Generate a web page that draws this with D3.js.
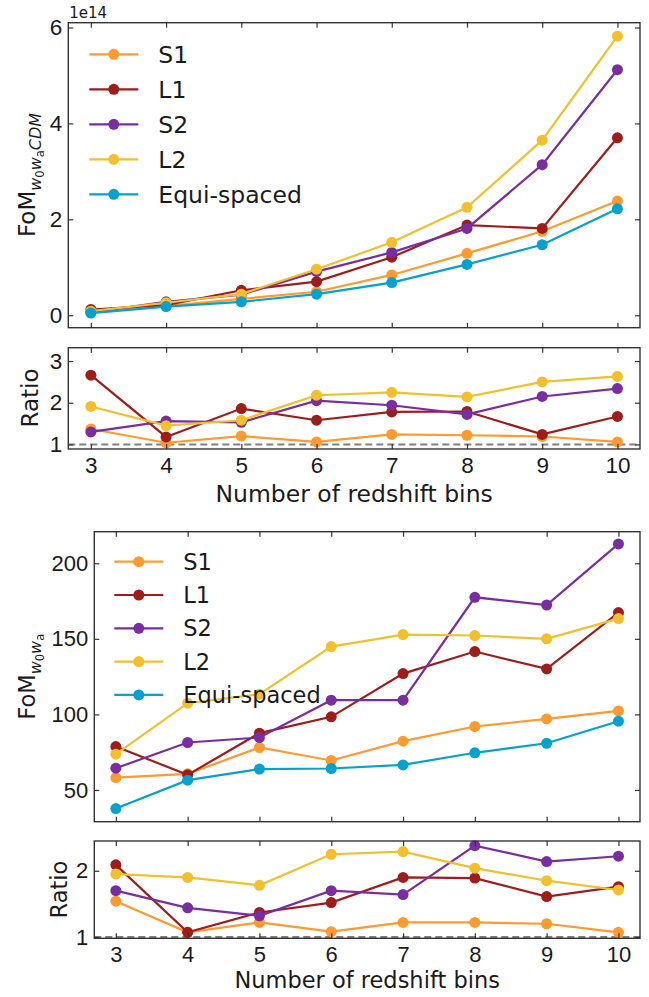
<!DOCTYPE html>
<html>
<head>
<meta charset="utf-8">
<script src="https://cdn.jsdelivr.net/npm/d3@7"></script>
<style>
  body { margin: 0; background: #fff; }
  svg { display: block; font-family: "DejaVu Sans", sans-serif; }
</style>
</head>
<body>
<div id="chart"></div>
<script>
// ---- data ----
const bins = [3, 4, 5, 6, 7, 8, 9, 10];
const seriesNames = ["S1", "L1", "S2", "L2", "Equi-spaced"];
const seriesColors = ["#fe9a2e", "#9e1d1a", "#7a2da0", "#f3bf2b", "#04a1d1"];

// FoM w0 wa CDM, in units of 1e14
const cdmS1   = [0.06, 0.19, 0.34, 0.49, 0.84, 1.29, 1.75, 2.38];
const cdmL1   = [0.12, 0.21, 0.52, 0.70, 1.21, 1.88, 1.81, 3.70];
const cdmS2   = [0.06, 0.28, 0.43, 0.91, 1.31, 1.81, 3.14, 5.12];
const cdmL2   = [0.085, 0.26, 0.44, 0.96, 1.52, 2.25, 3.65, 5.82];
const cdmEqui = [0.045, 0.18, 0.28, 0.44, 0.68, 1.06, 1.47, 2.22];

const cdmRatioS1 = [1.37, 1.04, 1.20, 1.06, 1.24, 1.22, 1.19, 1.06];
const cdmRatioL1 = [2.66, 1.18, 1.86, 1.58, 1.78, 1.79, 1.24, 1.67];
const cdmRatioS2 = [1.30, 1.56, 1.53, 2.05, 1.94, 1.72, 2.15, 2.34];
const cdmRatioL2 = [1.91, 1.45, 1.58, 2.18, 2.25, 2.14, 2.50, 2.63];

// FoM w0 wa
const waS1   = [58.2, 60.7, 78.1, 69.5, 82.3, 92.0, 97.0, 102.3];
const waL1   = [78.7, 60.0, 87.6, 98.4, 127.0, 141.6, 130.1, 167.4];
const waS2   = [64.4, 81.4, 84.7, 109.4, 109.4, 177.5, 172.4, 212.8];
const waL2   = [73.7, 107.4, 113.4, 144.9, 152.8, 152.2, 150.0, 163.4];
const waEqui = [37.7, 56.5, 63.8, 64.2, 66.6, 74.6, 80.9, 95.5];

const waRatioS1 = [1.54, 1.07, 1.22, 1.08, 1.22, 1.22, 1.20, 1.07];
const waRatioL1 = [2.09, 1.07, 1.37, 1.52, 1.90, 1.89, 1.61, 1.76];
const waRatioS2 = [1.70, 1.44, 1.32, 1.70, 1.64, 2.38, 2.14, 2.22];
const waRatioL2 = [1.95, 1.90, 1.78, 2.25, 2.29, 2.04, 1.85, 1.71];

const xTicks = bins;
const cdmTicks = [0, 2, 4, 6];
const cdmRatioTicks = [1, 2, 3];
const waTicks = [50, 100, 150, 200];
const waRatioTicks = [1, 2];

// ---- drawing ----
const width = 649, height = 997;
const textColor = "#1a1a1a", frameColor = "#333";

const svg = d3.select("#chart").append("svg")
    .attr("width", width)
    .attr("height", height)
    .attr("viewBox", [0, 0, width, height]);

function panel(opt) {
    const x = d3.scaleLinear().domain([2.7, 10.3]).range([opt.left, opt.right]);
    const y = d3.scaleLinear().domain(opt.yDomain).range([opt.bottom, opt.top]);
    const g = svg.append("g");
    const fs = opt.fontSize;

    // dashed reference line
    if (opt.refLine) {
        g.append("line")
            .attr("x1", opt.left).attr("x2", opt.right)
            .attr("y1", y(1)).attr("y2", y(1))
            .attr("stroke", "#808080").attr("stroke-width", 2)
            .attr("stroke-dasharray", "7,4");
    }

    // series
    opt.series.forEach((vals, i) => {
        const pts = bins.map((b, j) => [b, vals[j]]);
        g.append("path")
            .attr("d", d3.line().x(d => x(d[0])).y(d => y(d[1]))(pts))
            .attr("fill", "none")
            .attr("stroke", seriesColors[i])
            .attr("stroke-width", 2.2);
        g.append("g").selectAll("circle")
            .data(pts).enter().append("circle")
            .attr("cx", d => x(d[0]))
            .attr("cy", d => y(d[1]))
            .attr("r", 5.5)
            .attr("fill", seriesColors[i]);
    });

    // axes, ticks inward on all four sides
    const tick = 5;
    const styleAxis = a => {
        a.select(".domain").remove();
        a.selectAll("line").attr("stroke", frameColor).attr("stroke-width", 1.2);
        a.selectAll("text").attr("fill", textColor).style("font-size", fs + "px");
    };
    svg.append("g")
        .attr("transform", `translate(${opt.left},0)`)
        .call(d3.axisLeft(y).tickValues(opt.yTicks).tickSize(-tick).tickPadding(6).tickFormat(d3.format("d")))
        .call(styleAxis);
    svg.append("g")
        .attr("transform", `translate(${opt.right},0)`)
        .call(d3.axisRight(y).tickValues(opt.yTicks).tickSize(-tick).tickFormat(""))
        .call(styleAxis);
    svg.append("g")
        .attr("transform", `translate(0,${opt.bottom})`)
        .call(d3.axisBottom(x).tickValues(xTicks).tickSize(-tick).tickPadding(8)
            .tickFormat(opt.xLabels ? d3.format("d") : ""))
        .call(styleAxis);
    svg.append("g")
        .attr("transform", `translate(0,${opt.top})`)
        .call(d3.axisTop(x).tickValues(xTicks).tickSize(-tick).tickFormat(""))
        .call(styleAxis);

    svg.append("rect")
        .attr("x", opt.left).attr("y", opt.top)
        .attr("width", opt.right - opt.left).attr("height", opt.bottom - opt.top)
        .attr("fill", "none").attr("stroke", frameColor).attr("stroke-width", 1.4);

    return { x, y };
}

function legend(opt) {
    const g = svg.append("g");
    seriesNames.forEach((name, i) => {
        const yy = opt.y0 + i * opt.dy;
        g.append("line")
            .attr("x1", opt.x0).attr("x2", opt.x0 + 49)
            .attr("y1", yy).attr("y2", yy)
            .attr("stroke", seriesColors[i]).attr("stroke-width", 2.2);
        g.append("circle")
            .attr("cx", opt.x0 + 24.5).attr("cy", yy).attr("r", 5.5)
            .attr("fill", seriesColors[i]);
        g.append("text")
            .attr("x", opt.x0 + 69).attr("y", yy + opt.fs * 0.36)
            .attr("fill", textColor)
            .style("font-size", opt.fs + "px")
            .text(name);
    });
}

function yLabel(x, y, fs, parts) {
    const t = svg.append("text")
        .attr("transform", `translate(${x},${y}) rotate(-90)`)
        .attr("text-anchor", "middle")
        .attr("fill", textColor)
        .style("font-size", fs + "px");
    parts.forEach(p => {
        t.append("tspan")
            .attr("dy", p.dy || 0)
            .style("font-size", (p.size || fs) + "px")
            .style("font-style", p.italic ? "italic" : "normal")
            .text(p.text);
    });
}

function xLabel(cx, y, fs) {
    svg.append("text")
        .attr("x", cx).attr("y", y)
        .attr("text-anchor", "middle")
        .attr("fill", textColor)
        .style("font-size", fs + "px")
        .text("Number of redshift bins");
}

// ---- top figure: FoM w0 wa CDM ----
const topL = 68.3, topR = 640;
panel({
    left: topL, right: topR, top: 22.7, bottom: 327.7,
    yDomain: [-0.26, 6.10], yTicks: cdmTicks, fontSize: 22.5,
    series: [cdmS1, cdmL1, cdmS2, cdmL2, cdmEqui]
});
svg.append("text")
    .attr("x", topL + 1).attr("y", 18)
    .attr("fill", textColor).style("font-size", "15px")
    .text("1e14");
legend({ x0: topL + 21, y0: 54.3, dy: 35, fs: 23.5 });
yLabel(35, 175, 23, [
    { text: "FoM" },
    { text: "w", italic: true, size: 16, dy: 6 },
    { text: "0", size: 11.5, dy: 3 },
    { text: "w", italic: true, size: 16, dy: -3 },
    { text: "a", size: 11.5, dy: 3 },
    { text: "CDM", italic: true, size: 16, dy: -3 }
]);

panel({
    left: topL, right: topR, top: 347.7, bottom: 449,
    yDomain: [0.89, 3.32], yTicks: cdmRatioTicks, fontSize: 22.5, refLine: true, xLabels: true,
    series: [cdmRatioS1, cdmRatioL1, cdmRatioS2, cdmRatioL2]
});
yLabel(38.3, 398, 23, [{ text: "Ratio" }]);
xLabel((topL + topR) / 2, 501.7, 23.5);

// ---- bottom figure: FoM w0 wa ----
const botL = 94.3, botR = 640;
panel({
    left: botL, right: botR, top: 531.7, bottom: 821.7,
    yDomain: [29.0, 220.9], yTicks: waTicks, fontSize: 22,
    series: [waS1, waL1, waS2, waL2, waEqui]
});
legend({ x0: botL + 20, y0: 561.7, dy: 33.3, fs: 22.5 });
yLabel(35, 676.7, 22.5, [
    { text: "FoM" },
    { text: "w", italic: true, size: 16, dy: 6 },
    { text: "0", size: 11.5, dy: 3 },
    { text: "w", italic: true, size: 16, dy: -3 },
    { text: "a", size: 11.5, dy: 3 }
]);

panel({
    left: botL, right: botR, top: 841, bottom: 938.3,
    yDomain: [0.98, 2.45], yTicks: waRatioTicks, fontSize: 22, refLine: true, xLabels: true,
    series: [waRatioS1, waRatioL1, waRatioS2, waRatioL2]
});
yLabel(66.7, 889.6, 22.5, [{ text: "Ratio" }]);
xLabel((botL + botR) / 2, 988.3, 22.5);
</script>
</body>
</html>
